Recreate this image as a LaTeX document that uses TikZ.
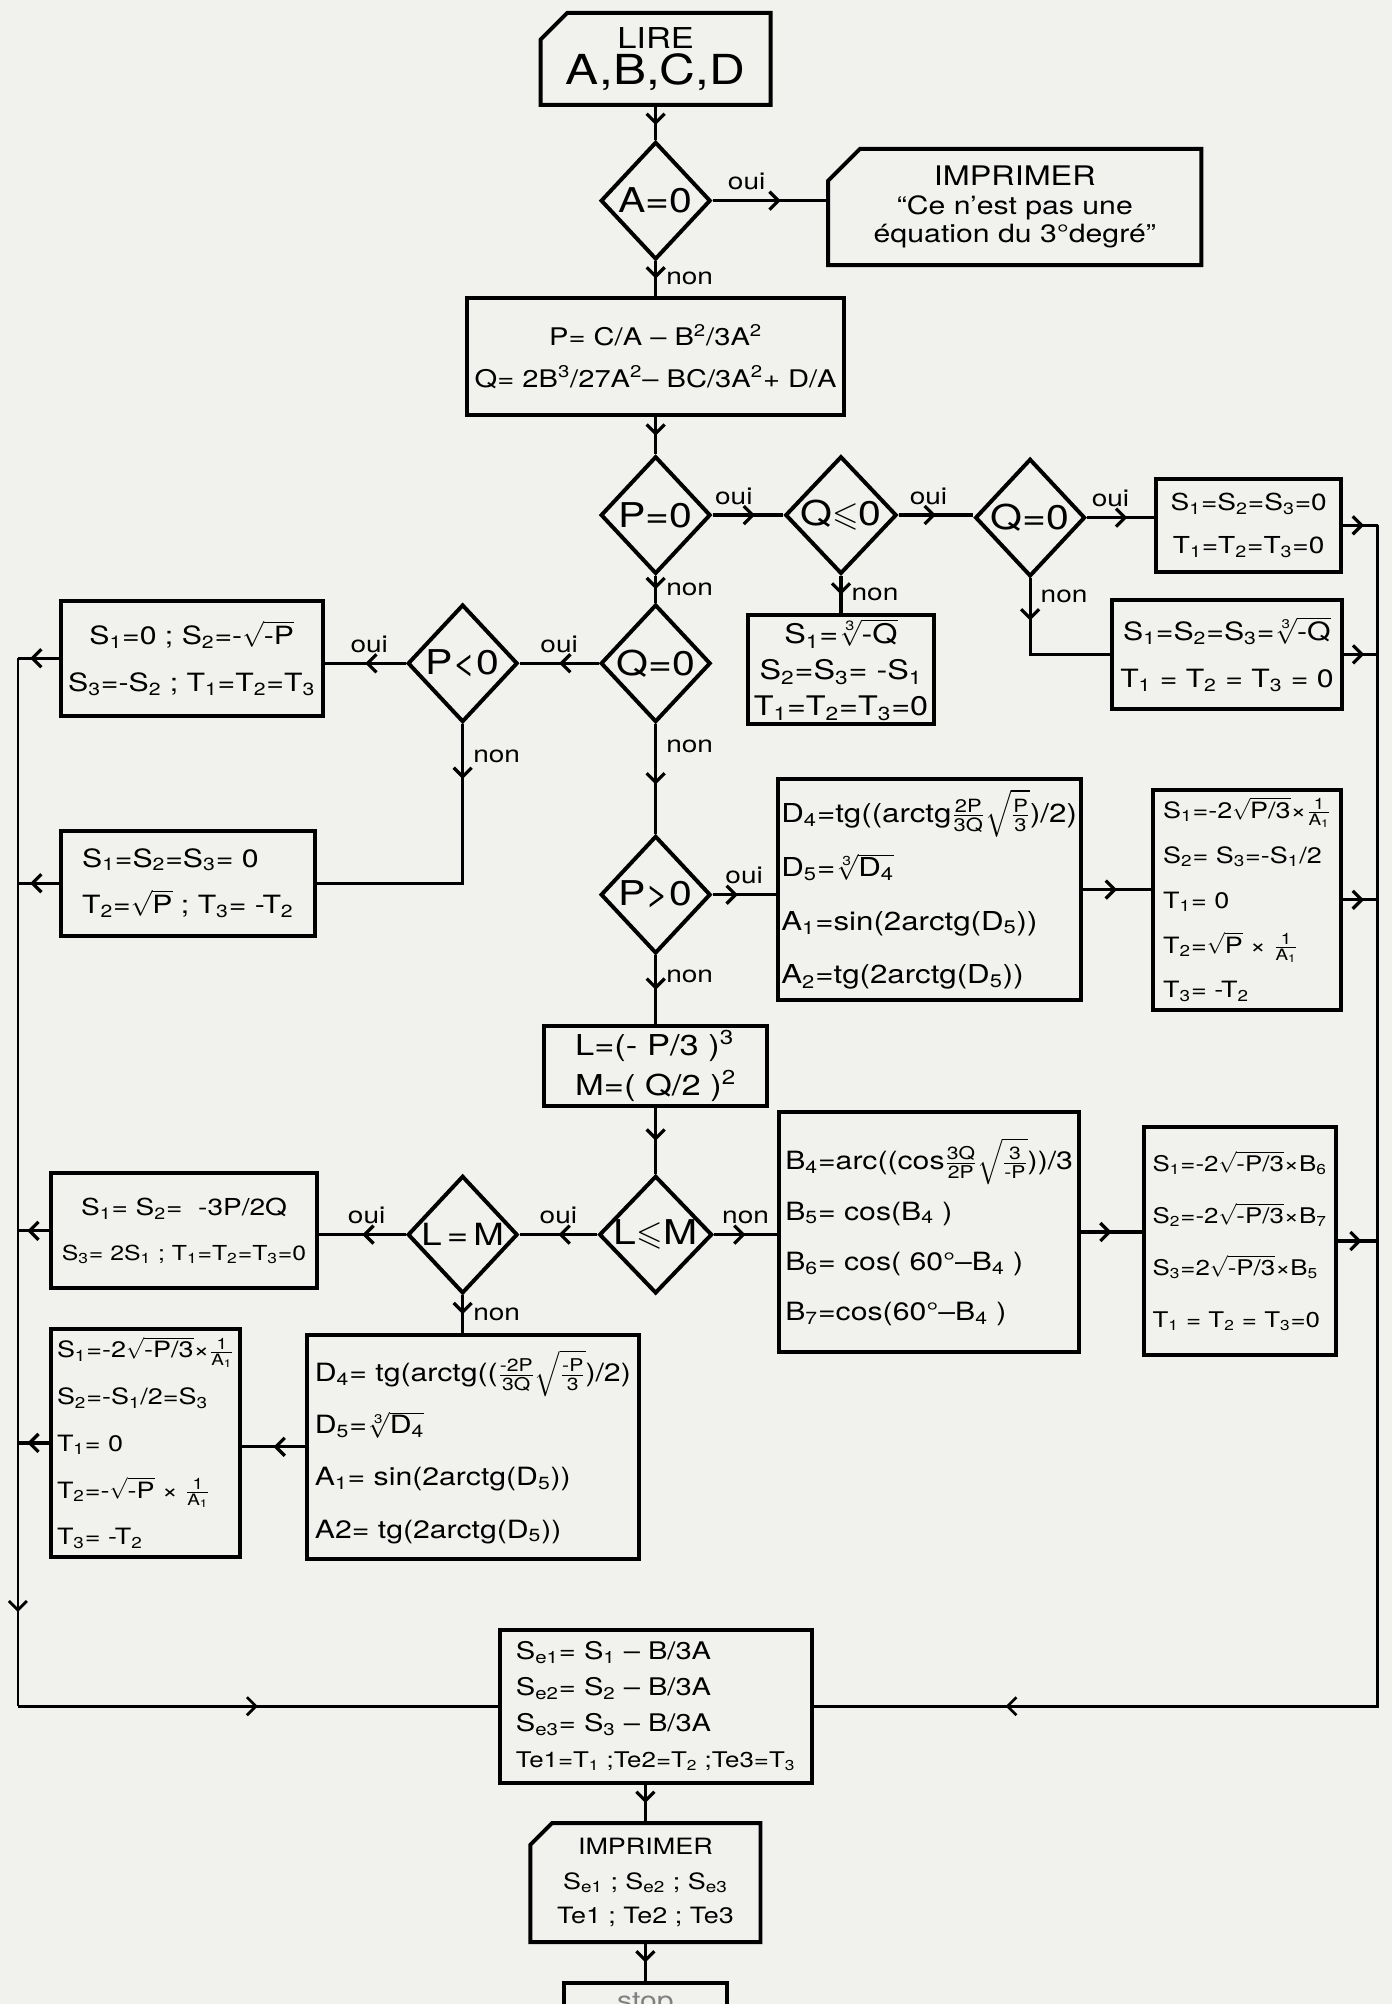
\documentclass[tikz,border=0pt]{standalone}
\usepackage{amsmath,amssymb}
\usepackage{fontspec}
\setmainfont{TeX Gyre Heros}[FakeStretch=1.2]
\usepackage{tikz}
\usetikzlibrary{shapes.geometric, shapes.misc, arrows.meta, decorations.markings, positioning}

\definecolor{papier}{RGB}{241,241,238}
\newcommand{\sbx}[1]{\textsubscript{#1}}
\newcommand{\spx}[1]{\textsuperscript{#1}}
\newcommand{\racine}[1]{$\sqrt{\text{#1}}$}
\newcommand{\cube}[1]{$\sqrt[\text{3}]{\text{#1}}$}
\newcommand{\inv}[1]{$\frac{\text{1}}{\text{#1}}$}
\newcommand{\fs}[2]{\fontsize{#1}{#2}\selectfont}

\begin{document}
\begin{tikzpicture}[x=0.025cm, y=-0.025cm,
    boite/.style={
        rectangle, draw=black, line width=2.2pt,
        align=center, inner sep=2pt,
        font=\fs{14}{20}
    },
    entree/.style={
        chamfered rectangle, chamfered rectangle corners=north west,
        chamfered rectangle xsep=0.4cm,
        draw=black, line width=2.2pt,
        align=center, inner sep=2pt,
        font=\fs{14}{20}
    },
    test/.style={
        diamond, draw=black, line width=2.2pt, inner sep=0pt,
        minimum width=2.15cm, minimum height=2.3cm,
        font=\fs{19}{21}
    },
    flow/.style={line width=1.8pt, postaction={decorate},
        decoration={markings,
            mark=at position #1 with {\arrow{Straight Barb[length=5pt,width=10pt]}}}},
    flow/.default=0.5,
    lab/.style={font=\fs{13}{15}, inner sep=2pt},
]

% Fond
\useasboundingbox (0,0) rectangle (1089,1568);
\clip (0,0) rectangle (1089,1568);
\fill[papier] (0,0) rectangle (1089,1568);

% Bus de retour
\coordinate (lbus) at (14,0);
\coordinate (rbus) at (1078,0);

% Lecture
\node[entree, minimum width=4.5cm, minimum height=1.8cm] (lire) at (513,46)
    {\fs{16}{18}LIRE\\ \fs{23}{25}A,B,C,D};
\node[test] (dA) at (513,157) {A=0};
\node[entree, minimum width=7.3cm, minimum height=2.275cm,
      chamfered rectangle xsep=0.5cm, font=\fs{14}{16}] (msg) at (794,162)
    {\fs{15}{18}IMPRIMER\\
     “Ce n’est pas une\\ équation du 3°degré”};
\node[boite, minimum width=7.375cm, minimum height=2.3cm, inner xsep=0pt,
      font=\fs{13.5}{23}] (pq) at (513,279)
    {P= C/A – B\spx{2}/3A\spx{2}\\
     Q= 2B\spx{3}/27A\spx{2}– BC/3A\spx{2}+ D/A};

% P = 0
\node[test] (dP0)  at (513,403) {P=0};
\node[test] (dQle) at (658,403) {Q$\leqslant$0};
\node[test] (dQ0r) at (806,405) {Q=0};
\node[boite, minimum width=3.625cm, minimum height=1.825cm, font=\fs{13}{24}] (bZero) at (977,411)
    {S\sbx1=S\sbx2=S\sbx3=0\\ T\sbx1=T\sbx2=T\sbx3=0};
\node[boite, minimum width=3.625cm, minimum height=2.125cm, font=\fs{15}{20}] (bCube) at (658,524)
    {S\sbx1=\cube{-Q}\\ S\sbx2=S\sbx3= -S\sbx1\\ T\sbx1=T\sbx2=T\sbx3=0};
\node[boite, minimum width=4.5cm, minimum height=2.125cm, font=\fs{14}{26}] (bTriple) at (960,512)
    {S\sbx1=S\sbx2=S\sbx3=\cube{-Q}\\ T\sbx1 = T\sbx2 = T\sbx3 = 0};

% Q = 0
\node[test] (dQ0)   at (513,519) {Q=0};
\node[test] (dPneg) at (362,519) {P<0};
\node[boite, minimum width=5.125cm, minimum height=2.25cm, font=\fs{14}{26}] (bPneg) at (150,515)
    {S\sbx1=0 ; S\sbx2=-\racine{-P}\\ S\sbx3=-S\sbx2 ; T\sbx1=T\sbx2=T\sbx3};
\node[boite, align=left, minimum width=4.975cm, minimum height=2.05cm, font=\fs{14}{26}] (bPpos) at (147,691)
    {S\sbx1=S\sbx2=S\sbx3= 0\\ T\sbx2=\racine{P} ; T\sbx3= -T\sbx2};

% P > 0
\node[test] (dPpos) at (513,700) {P>0};
\node[boite, align=left, minimum width=5.875cm, minimum height=4.325cm, font=\fs{14.5}{30}] (bD) at (727,696)
    {D\sbx4=tg((arctg$\frac{\text{2P}}{\text{3Q}}\sqrt{\frac{\text{P}}{\text{3}}}$)/2)\\
     D\sbx5=\cube{D\sbx4}\\
     A\sbx1=sin(2arctg(D\sbx5))\\
     A\sbx2=tg(2arctg(D\sbx5))};
\node[boite, align=left, minimum width=3.675cm, minimum height=4.3cm, font=\fs{12.5}{25}] (bSD) at (976,704)
    {S\sbx1=-2\racine{P/3}×\inv{A\sbx1}\\
     S\sbx2= S\sbx3=-S\sbx1/2\\
     T\sbx1= 0\\
     T\sbx2=\racine{P} × \inv{A\sbx1}\\
     T\sbx3= -T\sbx2};

% L et M
\node[boite, align=left, minimum width=4.35cm, minimum height=1.55cm, font=\fs{16}{22}] (bLM) at (513,834)
    {L=(- P/3 )\spx3\\ M=( Q/2 )\spx2};
\node[test] (dLM) at (513,966) {L$\leqslant$M};
\node[boite, align=left, minimum width=5.875cm, minimum height=4.7cm, font=\fs{14}{28}] (bB) at (727,964)
    {B\sbx4=arc((cos$\frac{\text{3Q}}{\text{2P}}\sqrt{\frac{\text{3}}{\text{-P}}}$))/3\\
     B\sbx5= cos(B\sbx4 )\\
     B\sbx6= cos( 60°–B\sbx4 )\\
     B\sbx7=cos(60°–B\sbx4 )};
\node[boite, align=left, minimum width=3.75cm, minimum height=4.45cm, font=\fs{12}{29}] (bSB) at (970,971)
    {S\sbx1=-2\racine{-P/3}×B\sbx6\\
     S\sbx2=-2\racine{-P/3}×B\sbx7\\
     S\sbx3=2\racine{-P/3}×B\sbx5\\
     T\sbx1 = T\sbx2 = T\sbx3=0};

% L = M
\node[test, font=\fs{17}{19}] (dLeq) at (362,966) {L\,=\,M};
\node[boite, minimum width=5.2cm, minimum height=2.25cm, font=\fs{11.5}{25}] (bLeq) at (144,963)
    {\fs{13}{25}S\sbx1= S\sbx2= \ -3P/2Q\\ S\sbx3= 2S\sbx1 ; T\sbx1=T\sbx2=T\sbx3=0};
\node[boite, align=left, minimum width=6.5cm, minimum height=4.375cm, font=\fs{14}{29}] (bD2) at (370,1132)
    {D\sbx4= tg(arctg(($\frac{\text{-2P}}{\text{3Q}}\sqrt{\frac{\text{-P}}{\text{3}}}$)/2)\\
     D\sbx5=\cube{D\sbx4}\\
     A\sbx1= sin(2arctg(D\sbx5))\\
     A2= tg(2arctg(D\sbx5))};
\node[boite, align=left, minimum width=3.7cm, minimum height=4.45cm, font=\fs{12.5}{26}] (bSD2) at (114,1129)
    {S\sbx1=-2\racine{-P/3}×\inv{A\sbx1}\\
     S\sbx2=-S\sbx1/2=S\sbx3\\
     T\sbx1= 0\\
     T\sbx2=-\racine{-P} × \inv{A\sbx1}\\
     T\sbx3= -T\sbx2};

% Resultats
\node[boite, align=left, minimum width=6.1cm, minimum height=3cm, font=\fs{13.5}{20}] (bSe) at (513,1335)
    {S\sbx{e1}= S\sbx1 – B/3A\\ S\sbx{e2}= S\sbx2 – B/3A\\
     S\sbx{e3}= S\sbx3 – B/3A\\ \fs{12}{20}Te1=T\sbx1 ;Te2=T\sbx2 ;Te3=T\sbx3};
\node[entree, minimum width=4.5cm, minimum height=2.325cm,
      chamfered rectangle xsep=0.3cm, font=\fs{12.5}{19}] (bOut) at (505,1473)
    {IMPRIMER\\ S\sbx{e1} ; S\sbx{e2} ; S\sbx{e3}\\ Te1 ; Te2 ; Te3};
\node[boite, anchor=north, minimum width=3.175cm, minimum height=0.8cm,
      text=gray] (bStop) at (505,1550) {stop};

%% Liaisons
\draw[flow=0.55] (lire.south) -- (dA.north);
\draw[flow=0.6] (dA.east) -- node[lab, above=3pt, pos=0.3]{oui} (dA.east -| msg.west);
\draw[flow] (dA.south) -- node[lab, right=3pt]{non} (pq.north);
\draw[flow] (pq.south) -- (dP0.north);

% Branche P = 0
\draw[flow=0.6] (dP0.east) -- node[lab, above=3pt, pos=0.3]{oui} (dQle.west);
\draw[flow=0.5] (dQle.east) -- node[lab, above=3pt, pos=0.4]{oui} (dQle.east -| dQ0r.west);
\draw[flow=0.6] (dQ0r.east) -- node[lab, above=3pt, pos=0.35]{oui} (dQ0r.east -| bZero.west);
\draw[flow] (dQle.south) -- node[lab, right=3pt]{non} (dQle.south |- bCube.north);
\draw[flow=0.27] (dQ0r.south) |- node[lab, right=3pt, pos=0.12]{non} (bTriple.west);
\draw[flow=0.6] (bZero.east) -- (bZero.east -| rbus);
\draw[flow=0.6] (bTriple.east) -- (bTriple.east -| rbus);

% Branche Q = 0
\draw[flow] (dP0.south) -- node[lab, right=3pt]{non} (dQ0.north);
\draw[flow] (dQ0.west) -- node[lab, above=3pt]{oui} (dPneg.east);
\draw[flow] (dPneg.west) -- node[lab, above=3pt, pos=0.45]{oui} (dPneg.west -| bPneg.east);
\draw[flow=0.7] (bPneg.west) -- (bPneg.west -| lbus);
\draw[flow=0.18] (dPneg.south) |- node[lab, right=3pt, pos=0.1]{non} (bPpos.east);
\draw[flow=0.7] (bPpos.west) -- (bPpos.west -| lbus);

% Branche P > 0
\draw[flow=0.55] (dQ0.south) -- node[lab, right=3pt, pos=0.2]{non} (dPpos.north);
\draw[flow=0.4] (dPpos.east) -- node[lab, above=3pt]{oui} (dPpos.east -| bD.west);
\draw[flow] (bD.east) -- (bD.east -| bSD.west);
\draw[flow=0.6] (bSD.east) -- (bSD.east -| rbus);
\draw[flow] (dPpos.south) -- node[lab, right=3pt, pos=0.3]{non} (bLM.north);
\draw[flow] (bLM.south) -- (dLM.north);

% Branche L <= M
\draw[flow] (dLM.east) -- node[lab, above=3pt]{non} (dLM.east -| bB.west);
\draw[flow] (bB.east) -- (bB.east -| bSB.west);
\draw[flow=0.6] (bSB.east) -- (bSB.east -| rbus);
\draw[flow] (dLM.west) -- node[lab, above=3pt]{oui} (dLeq.east);
\draw[flow] (dLeq.west) -- node[lab, above=3pt, pos=0.45]{oui} (dLeq.west -| bLeq.east);
\draw[flow=0.7] (bLeq.west) -- (bLeq.west -| lbus);
\draw[flow] (dLeq.south) -- node[lab, right=3pt]{non} (dLeq.south |- bD2.north);
\draw[flow] (bD2.west) -- (bD2.west -| bSD2.east);
\draw[flow=0.7] (bSD2.west) -- (bSD2.west -| lbus);

% Retours vers les resultats
\draw[flow=0.91, line width=1.5pt] (lbus |- bPneg.west) -- (lbus |- bSe.west);
\draw[flow, line width=1.5pt] (lbus |- bSe.west) -- (bSe.west);
\draw[flow=0.89, line width=1.5pt] (rbus |- bZero.east) -- (rbus |- bSe.east) -- (bSe.east);

% Sortie
\draw[flow] (bSe.south -| bOut.north) -- (bOut.north);
\draw[flow] (bOut.south) -- (bStop.north);

\end{tikzpicture}
\end{document}
